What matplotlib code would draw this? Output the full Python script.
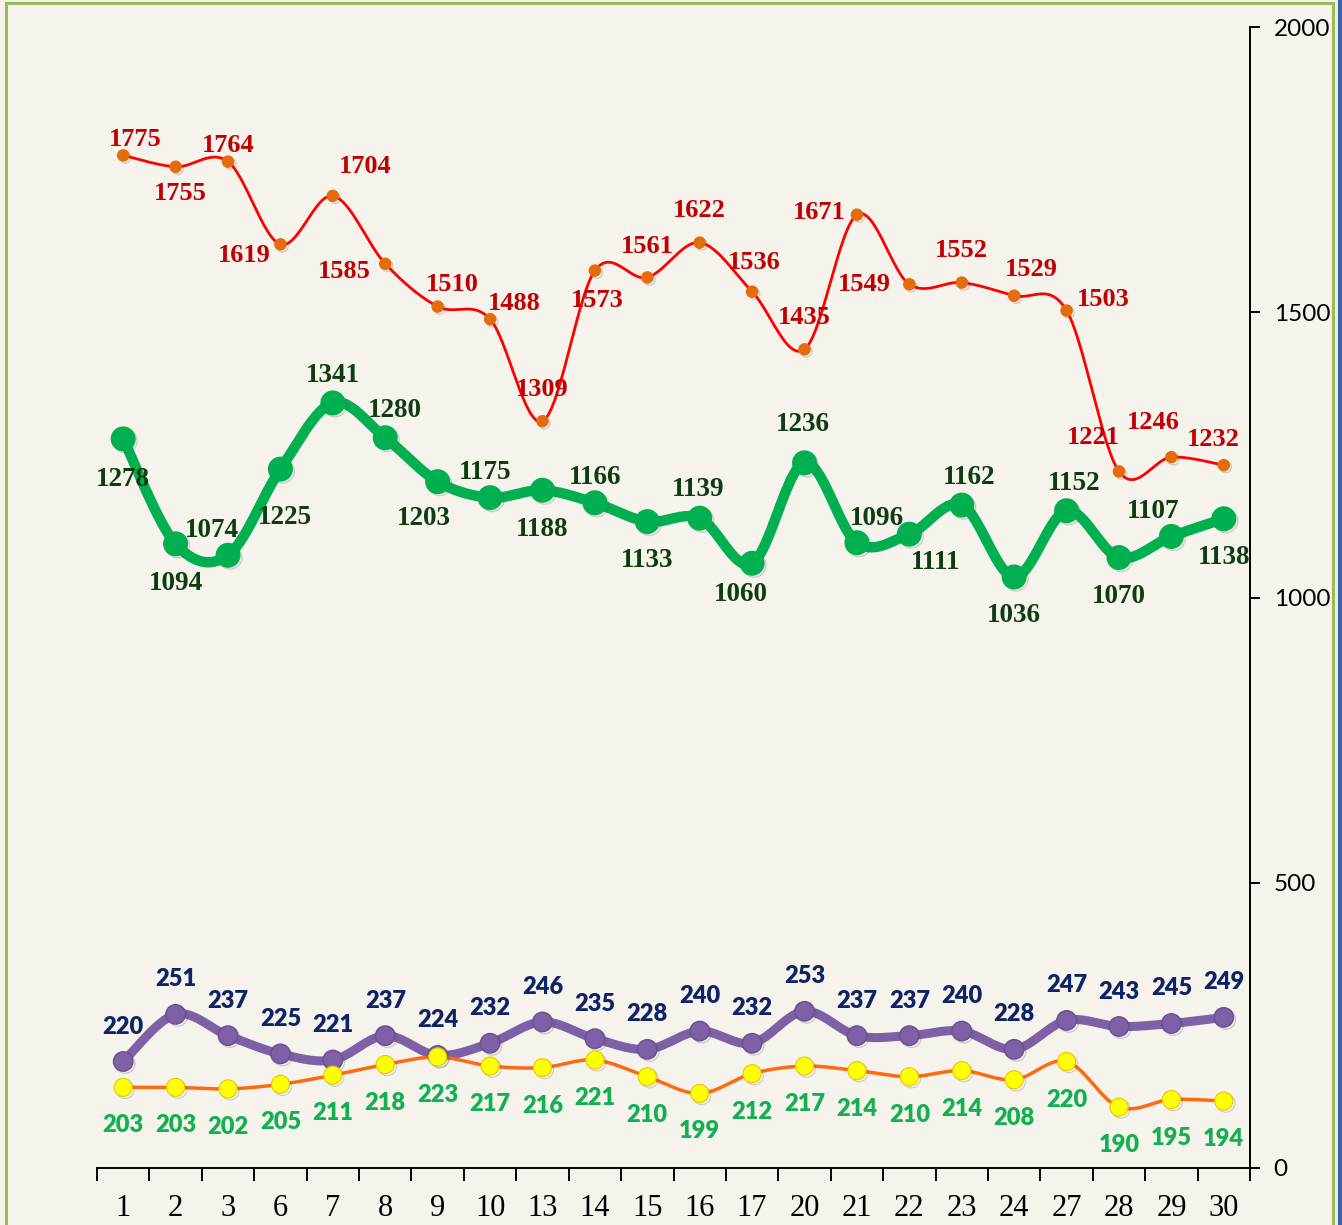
import numpy as np
import matplotlib
matplotlib.use("Agg")
import matplotlib.pyplot as plt
from matplotlib.patches import Rectangle
from matplotlib.lines import Line2D
import matplotlib.patheffects as pe

# ---------------- data ----------------
days = ["1", "2", "3", "6", "7", "8", "9", "10", "13", "14", "15", "16", "17",
        "20", "21", "22", "23", "24", "27", "28", "29", "30"]
red_vals = [1775, 1755, 1764, 1619, 1704, 1585, 1510, 1488, 1309, 1573, 1561,
            1622, 1536, 1435, 1671, 1549, 1552, 1529, 1503, 1221, 1246, 1232]
green_vals = [1278, 1094, 1074, 1225, 1341, 1280, 1203, 1175, 1188, 1166, 1133,
              1139, 1060, 1236, 1096, 1111, 1162, 1036, 1152, 1070, 1107, 1138]
purple_vals = [220, 251, 237, 225, 221, 237, 224, 232, 246, 235, 228, 240, 232,
               253, 237, 237, 240, 228, 247, 243, 245, 249]
yellow_vals = [203, 203, 202, 205, 211, 218, 223, 217, 216, 221, 210, 199, 212,
               217, 214, 210, 214, 208, 220, 190, 195, 194]
y_ticks = [0, 500, 1000, 1500, 2000]

# label offsets in pixels (dx, dy upward positive)
red_off = [(12, 16), (5, -27), (0, 16), (-36, -11), (32, 29), (-41, -8), (15, 22),
           (24, 16), (0, 32), (2, -30), (0, 31), (0, 32), (2, 29), (0, 32),
           (-38, 2), (-45, 0), (0, 32), (17, 26), (37, 11), (-26, 34),
           (-18, 35), (-10, 26)]
green_off = [(0, -41), (0, -40), (-16, 25), (5, -48), (0, 27), (10, 27), (-14, -37),
             (-5, 25), (0, -39), (0, 25), (0, -39), (-2, 29), (-11, -31), (-2, 38),
             (20, 24), (26, -28), (7, 28), (0, -39), (8, 27), (0, -39), (-18, 25),
             (0, -39)]

# ---------------- helpers ----------------
def smooth(xs, ys, n=30):
    xs = np.asarray(xs, float)
    ys = np.asarray(ys, float)
    P = np.column_stack([xs, ys])
    Pext = np.vstack([P[0], P, P[-1]])
    out = []
    for i in range(len(P) - 1):
        p0, p1, p2, p3 = Pext[i], Pext[i + 1], Pext[i + 2], Pext[i + 3]
        c1 = p1 + (p2 - p0) / 6.0
        c2 = p2 - (p3 - p1) / 6.0
        t = np.linspace(0, 1, n)[:, None]
        seg = ((1 - t) ** 3) * p1 + 3 * ((1 - t) ** 2) * t * c1 + 3 * (1 - t) * t ** 2 * c2 + t ** 3 * p2
        if i > 0:
            seg = seg[1:]
        out.append(seg)
    out = np.vstack(out)
    return out[:, 0], out[:, 1]

W, H = 1342, 1225
fig = plt.figure(figsize=(W / 100, H / 100), dpi=100)
bg = "#F5F3EC"
fig.patch.set_facecolor(bg)

# border
fig.add_artist(Rectangle((6 / W, -0.01), (1333 - 6) / W, 1 - 3 / H + 0.01,
                         transform=fig.transFigure, fill=False,
                         edgecolor="#9BBB59", linewidth=2.2))
for xx, lw in [(1338.5, 1.6), (1341, 1.6)]:
    fig.add_artist(Line2D([xx / W, xx / W], [0, 1], transform=fig.transFigure,
                          color="#3A64A8", linewidth=lw))

left, right, top, bottom = 97, 1250, 27, 1168
rect = [left / W, 1 - bottom / H, (right - left) / W, (bottom - top) / H]
ax = fig.add_axes(rect)
ax.set_facecolor("none")
ax2 = fig.add_axes(rect, sharex=ax)
ax2.set_facecolor("none")

x = np.arange(len(days))
ax.set_xlim(-0.5, len(days) - 0.5)
ax.set_ylim(0, 2000)
ax2.set_ylim(150, 900)

shadow = [pe.SimpleLineShadow(offset=(1.5, -1.5), alpha=0.25, shadow_color="#555555"), pe.Normal()]

# red series
sx, sy = smooth(x, red_vals)
ax.plot(sx, sy, color="#FF0000", linewidth=2.0, zorder=3, solid_capstyle="round")
ax.plot(x, red_vals, linestyle="none", marker="o", markersize=8,
        markerfacecolor="#E46C0A", markeredgecolor="#E46C0A", zorder=4,
        path_effects=shadow)

# green series
sx, sy = smooth(x, green_vals)
ax.plot(sx, sy, color="#00B050", linewidth=7.5, zorder=3, solid_capstyle="round")
ax.plot(x, green_vals, linestyle="none", marker="o", markersize=17,
        markerfacecolor="#00B050", markeredgecolor="#00B050", zorder=4,
        path_effects=shadow)

# purple series (secondary)
sx, sy = smooth(x, purple_vals)
ax2.plot(sx, sy, color="#7E60A6", linewidth=6.5, zorder=3, solid_capstyle="round")
ax2.plot(x, purple_vals, linestyle="none", marker="o", markersize=14,
         markerfacecolor="#7E60A6", markeredgecolor="#6A4E94", markeredgewidth=1,
         zorder=4, path_effects=shadow)

# yellow series (secondary)
sx, sy = smooth(x, yellow_vals)
ax2.plot(sx, sy, color="#FF6A10", linewidth=2.5, zorder=3, solid_capstyle="round")
ax2.plot(x, yellow_vals, linestyle="none", marker="o", markersize=13,
         markerfacecolor="#FFFF00", markeredgecolor="#E6C800", markeredgewidth=0.8,
         zorder=4, path_effects=shadow)

# labels
serif = ["Liberation Serif", "DejaVu Serif"]
sans = ["Lato", "DejaVu Sans"]
for i, v in enumerate(red_vals):
    dx, dy = red_off[i]
    ax.annotate(str(v), (x[i], v), xytext=(dx * 0.72, dy * 0.72), textcoords="offset points",
                ha="center", va="center", fontsize=19, fontweight="bold",
                family=serif, color="#C00000", zorder=6)
for i, v in enumerate(green_vals):
    dx, dy = green_off[i]
    ax.annotate(str(v), (x[i], v), xytext=(dx * 0.72, dy * 0.72), textcoords="offset points",
                ha="center", va="center", fontsize=19.5, fontweight="bold",
                family=serif, color="#0F3D12", zorder=6)
for i, v in enumerate(purple_vals):
    ax2.annotate(str(v), (x[i], v), xytext=(0, 35 * 0.72), textcoords="offset points",
                 ha="center", va="center", fontsize=17, fontweight="heavy",
                 family=sans, color="#0E2466", zorder=6)
for i, v in enumerate(yellow_vals):
    ax2.annotate(str(v), (x[i], v), xytext=(0, -38 * 0.72), textcoords="offset points",
                 ha="center", va="center", fontsize=17, fontweight="heavy",
                 family=sans, color="#12B050", zorder=6)

# axes styling
for a in (ax, ax2):
    for s in ["top", "left"]:
        a.spines[s].set_visible(False)
ax2.spines["bottom"].set_visible(False)
ax2.spines["right"].set_visible(False)
ax2.yaxis.set_visible(False)
ax2.tick_params(axis="x", which="both", bottom=False, labelbottom=False)

ax.spines["right"].set_linewidth(1.4)
ax.spines["bottom"].set_linewidth(1.4)
ax.spines["right"].set_color("black")
ax.spines["bottom"].set_color("black")

ax.yaxis.tick_right()
ax.set_yticks(y_ticks)
ax.set_yticklabels([str(t) for t in y_ticks], fontsize=17.5, family=sans)
ax.tick_params(axis="y", direction="out", length=7, width=1.4, pad=10)

ax.set_xticks(x)
ax.set_xticklabels(days, fontsize=22, family=serif)
ax.set_xticks(np.arange(-0.5, len(days)), minor=True)
ax.tick_params(axis="x", which="major", length=0, pad=19)
ax.tick_params(axis="x", which="minor", direction="out", length=9, width=1.4)

fig.savefig("out.png", dpi=100, facecolor=bg)
